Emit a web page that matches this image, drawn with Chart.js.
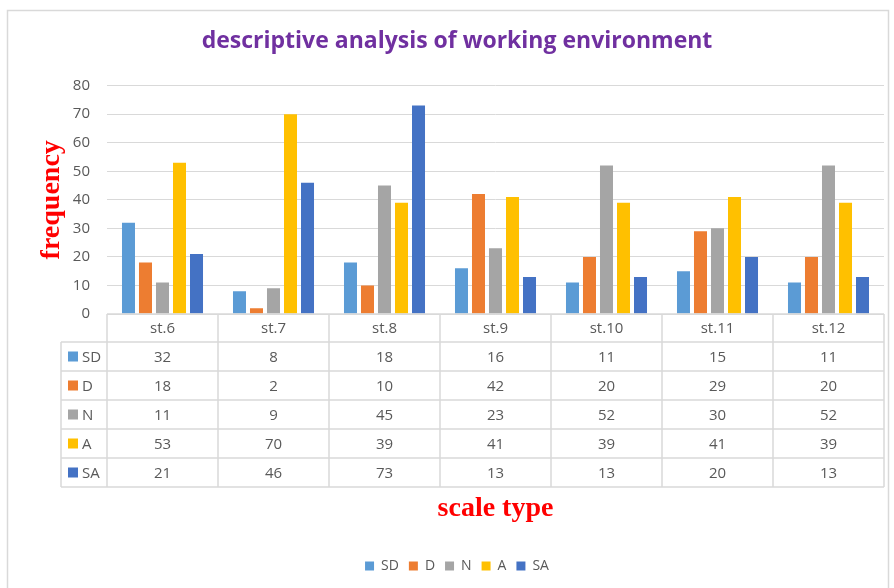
<!DOCTYPE html>
<html>
<head>
<meta charset="utf-8">
<script src="https://cdn.jsdelivr.net/npm/chart.js@4"></script>
<style>
  html, body { margin: 0; padding: 0; background: #fff; }
  #wrap { width: 894px; height: 588px; position: relative; }
</style>
</head>
<body>
<div id="wrap"><canvas id="grafico" width="894" height="588"></canvas></div>
<script>
const categorias = ["st.6", "st.7", "st.8", "st.9", "st.10", "st.11", "st.12"];
const serieSD = [32, 8, 18, 16, 11, 15, 11];
const serieD  = [18, 2, 10, 42, 20, 29, 20];
const serieN  = [11, 9, 45, 23, 52, 30, 52];
const serieA  = [53, 70, 39, 41, 39, 41, 39];
const serieSA = [21, 46, 73, 13, 13, 20, 13];
const nombres = ["SD", "D", "N", "A", "SA"];
const colores = ["#5B9BD5", "#ED7D31", "#A5A5A5", "#FFC000", "#4472C4"];
const ticksY = [0, 10, 20, 30, 40, 50, 60, 70, 80];

const FUENTE = "'Open Sans', sans-serif";
const GRIS = "#595959";
const LINEA = "#D9D9D9";

const series = [serieSD, serieD, serieN, serieA, serieSA];

// marco + tabla de datos bajo el eje x
const tablaPlugin = {
  id: 'tablaDatos',
  beforeDraw(chart) {
    const ctx = chart.ctx;
    ctx.save();
    ctx.strokeStyle = LINEA;
    ctx.lineWidth = 1.5;
    ctx.strokeRect(7.5, 10.5, 881, 600);
    ctx.restore();
  },
  afterDraw(chart) {
    const ctx = chart.ctx;
    const x = chart.scales.x;
    const area = chart.chartArea;
    const paso = x.getPixelForValue(1) - x.getPixelForValue(0);
    const top = area.bottom;
    const altoCab = 28;
    const altoFila = 29;
    const izqLeyenda = 61;
    const abajo = top + altoCab + altoFila * nombres.length;

    ctx.save();
    ctx.strokeStyle = LINEA;
    ctx.lineWidth = 1.5;
    ctx.beginPath();
    // linea superior de la cabecera
    ctx.moveTo(area.left, top); ctx.lineTo(area.right, top);
    // lineas de filas
    for (let r = 0; r <= nombres.length; r++) {
      const yy = top + altoCab + r * altoFila;
      ctx.moveTo(izqLeyenda, yy); ctx.lineTo(area.right, yy);
    }
    // verticales
    for (let i = 0; i <= categorias.length; i++) {
      const xx = area.left + i * paso;
      ctx.moveTo(xx, top); ctx.lineTo(xx, abajo);
    }
    ctx.moveTo(izqLeyenda, top + altoCab); ctx.lineTo(izqLeyenda, abajo);
    ctx.stroke();

    ctx.fillStyle = GRIS;
    ctx.font = "15px " + FUENTE;
    ctx.textAlign = 'center';
    ctx.textBaseline = 'middle';
    categorias.forEach((c, i) => {
      ctx.fillText(c, x.getPixelForValue(i), top + altoCab / 2 + 1);
    });
    series.forEach((s, r) => {
      const yy = top + altoCab + r * altoFila + altoFila / 2 + 1;
      s.forEach((v, i) => ctx.fillText(String(v), x.getPixelForValue(i), yy));
    });
    // claves de la leyenda en la tabla
    ctx.textAlign = 'left';
    nombres.forEach((n, r) => {
      const yy = top + altoCab + r * altoFila + altoFila / 2;
      ctx.fillStyle = colores[r];
      ctx.fillRect(68, yy - 5, 10, 10);
      ctx.fillStyle = GRIS;
      ctx.fillText(n, 82, yy + 1);
    });
    ctx.restore();
  }
};

new Chart(document.getElementById("grafico"), {
  type: 'bar',
  data: {
    labels: categorias,
    datasets: nombres.map((n, i) => ({
      label: n,
      data: series[i],
      backgroundColor: colores[i],
      borderWidth: 0,
      categoryPercentage: 0.766,
      barPercentage: 0.765
    }))
  },
  options: {
    responsive: false,
    animation: false,
    devicePixelRatio: 1,
    layout: { padding: { top: 10, left: 30, right: 10, bottom: 5 } },
    plugins: {
      title: {
        display: true,
        text: "descriptive analysis of working environment",
        color: "#7030A0",
        font: { family: FUENTE, size: 23, weight: 'bold' },
        padding: { top: 18, bottom: 30 }
      },
      legend: {
        display: true,
        position: 'bottom',
        labels: {
          boxWidth: 9, boxHeight: 9, padding: 10,
          color: GRIS,
          font: { family: FUENTE, size: 14 }
        }
      },
      tooltip: { enabled: false }
    },
    scales: {
      x: {
        ticks: { display: false },
        grid: { display: false },
        border: { display: false },
        title: {
          display: true,
          text: "scale type",
          color: "#FF0000",
          font: { family: "'Liberation Serif', serif", size: 28, weight: 'bold' },
          padding: { top: 0, bottom: 23 }
        },
        afterFit(s) { s.height = 235; }
      },
      y: {
        min: 0, max: 80,
        afterBuildTicks(s) { s.ticks = ticksY.map(v => ({ value: v })); },
        ticks: { color: GRIS, font: { family: FUENTE, size: 15 }, padding: 17 },
        grid: { color: LINEA, lineWidth: 1, drawTicks: false },
        border: { display: false },
        title: {
          display: true,
          text: "frequency",
          color: "#FF0000",
          font: { family: "'Liberation Serif', serif", size: 28, weight: 'bold' },
          padding: { top: 5, bottom: 0 }
        },
        afterFit(s) { s.width = 77; }
      }
    }
  },
  plugins: [tablaPlugin]
});
</script>
</body>
</html>
